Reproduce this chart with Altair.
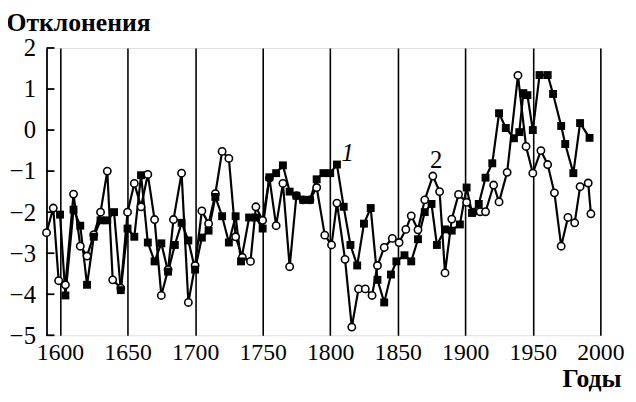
import altair as alt
import pandas as pd

# Series 1 (filled squares)
years1 = [1600, 1604, 1610, 1615, 1620, 1625, 1630, 1635, 1640, 1645,
          1650, 1655, 1660, 1665, 1670, 1675, 1680, 1685, 1690, 1695,
          1700, 1705, 1710, 1715, 1720, 1725, 1730, 1734, 1740, 1745,
          1750, 1755, 1760, 1765, 1770, 1775, 1780, 1785, 1790, 1795,
          1800, 1805, 1810, 1815, 1820, 1825, 1830, 1835, 1840, 1845,
          1849, 1855, 1860, 1865, 1870, 1875, 1879, 1885, 1890, 1896,
          1901, 1905, 1910, 1915, 1920, 1925, 1930, 1936, 1940, 1943,
          1946, 1950, 1955, 1961, 1965, 1971, 1974, 1980, 1985, 1992]
vals1 = [-2.06, -4.03, -1.94, -2.33, -3.77, -2.6, -2.2, -2.2, -2.0, -3.9,
         -2.4, -2.6, -1.1, -2.74, -3.2, -2.76, -3.45, -2.8, -2.26, -2.69,
         -3.4, -2.62, -2.45, -1.63, -2.1, -2.74, -2.1, -3.2, -2.13, -2.13,
         -2.4, -1.15, -1.05, -0.86, -1.5, -1.6, -1.7, -1.7, -1.2, -1.05,
         -1.05, -0.84, -1.87, -2.8, -3.3, -2.28, -1.9, -3.65, -4.2, -3.52,
         -3.2, -3.05, -3.2, -2.66, -2.0, -1.8, -2.8, -2.42, -2.45, -2.3,
         -1.4, -2.02, -1.8, -1.16, -0.81, 0.41, 0.05, -0.2, -0.05, 0.9,
         0.85, 0.0, 1.34, 1.34, 0.88, 0.1, -0.34, -1.05, 0.17, -0.19]

# Series 2 (open circles)
years2 = [1590, 1595, 1599, 1604, 1610, 1615, 1620, 1625, 1630, 1635,
          1639, 1645, 1650, 1655, 1660, 1665, 1670, 1675, 1680, 1684,
          1690, 1695, 1700, 1705, 1710, 1715, 1720, 1725, 1730, 1735,
          1741, 1745, 1750, 1755, 1760, 1765, 1770, 1775, 1780, 1785,
          1790, 1796, 1801, 1805, 1811, 1816, 1821, 1826, 1831, 1835,
          1840, 1846, 1851, 1856, 1860, 1865, 1870, 1876, 1881, 1885,
          1890, 1895, 1901, 1906, 1911, 1915, 1921, 1925, 1931, 1939,
          1945, 1950, 1956, 1961, 1966, 1971, 1976, 1981, 1985, 1991, 1993]
vals2 = [-2.5, -1.9, -3.67, -3.77, -1.56, -2.83, -3.07, -2.55, -2.0, -1.0,
         -3.65, -3.85, -2.0, -1.3, -1.87, -1.08, -2.18, -4.03, -3.4, -2.18,
         -1.05, -4.2, -3.3, -1.97, -2.28, -1.55, -0.52, -0.69, -2.6, -3.1,
         -3.2, -1.87, -2.2, -1.17, -2.33, -1.3, -3.33, -1.6, -1.7, -1.7,
         -1.4, -2.56, -2.8, -1.78, -3.15, -4.8, -3.87, -3.87, -4.03, -3.3,
         -2.86, -2.64, -2.74, -2.42, -2.09, -2.43, -1.7, -1.12, -1.5, -3.48,
         -2.17, -1.57, -1.76, -2.0, -1.99, -1.99, -1.34, -1.75, -1.03, 1.33,
         -0.4, -1.05, -0.5, -0.84, -1.53, -2.83, -2.13, -2.26, -1.38, -1.29, -2.04]

x_ticks = [1600, 1650, 1700, 1750, 1800, 1850, 1900, 1950, 2000]
y_ticks = [-5, -4, -3, -2, -1, 0, 1, 2]

label_text = ["1", "2"]
label_year = [1813, 1878.5]
label_val = [-0.55, -0.74]

FONT = "Liberation Serif"

d1 = pd.DataFrame({"year": years1, "value": vals1, "series": "1"})
d2 = pd.DataFrame({"year": years2, "value": vals2, "series": "2"})
ticks_df = pd.DataFrame({"value": y_ticks})
lab1_df = pd.DataFrame({"year": label_year[:1], "value": label_val[:1], "text": label_text[:1]})
lab2_df = pd.DataFrame({"year": label_year[1:], "value": label_val[1:], "text": label_text[1:]})

xs = alt.Scale(domain=[1590, 2000], nice=False, zero=False)
ys = alt.Scale(domain=[-5, 2], nice=False, zero=False)

W, H = 561, 291

x_axis = alt.Axis(values=x_ticks, format="d", grid=True, gridColor="black",
                  gridWidth=1.6, gridOpacity=1, domain=False, ticks=False,
                  tickSize=0, labelOverlap=False, labelFlush=False,
                  labelFont=FONT, labelFontSize=24, labelColor="black",
                  labelPadding=6, title="Годы", titleFont=FONT,
                  titleFontSize=26, titleFontWeight="bold", titleColor="black",
                  titleAlign="right", titleAnchor="end", titleX=W + 21, titleY=52,
                  titleBaseline="alphabetic")
y_axis = alt.Axis(values=y_ticks, grid=False, domain=True, domainColor="black",
                  domainWidth=1.8, ticks=False, tickSize=0, labelOverlap=False,
                  labelFlush=False, labelFont=FONT,
                  labelFontSize=25, labelColor="black", labelPadding=11,
                  title="Отклонения", titleFont=FONT, titleFontSize=26,
                  titleFontWeight="bold", titleColor="black", titleAngle=0,
                  titleAlign="left", titleBaseline="alphabetic",
                  titleX=-41, titleY=-18)

x_enc = alt.X("year:Q", scale=xs, axis=x_axis)
y_enc = alt.Y("value:Q", scale=ys, axis=y_axis)

line2 = alt.Chart(d2).mark_line(color="black", strokeWidth=2.2).encode(x=x_enc, y=y_enc)
line1 = alt.Chart(d1).mark_line(color="black", strokeWidth=2.2).encode(x=x_enc, y=y_enc)
circles = alt.Chart(d2).mark_point(shape="circle", filled=True, fill="white",
                                   stroke="black", strokeWidth=1.6, size=55,
                                   opacity=1).encode(x=x_enc, y=y_enc)
squares = alt.Chart(d1).mark_point(shape="square", filled=True, color="black",
                                   size=64, opacity=1).encode(x=x_enc, y=y_enc)
yticks = alt.Chart(ticks_df).mark_rule(color="black", strokeWidth=1.8).encode(
    x=alt.value(0), x2=alt.value(8), y=alt.Y("value:Q", scale=ys))
lab1 = alt.Chart(lab1_df).mark_text(font=FONT, fontSize=25, fontStyle="italic",
                                    color="black").encode(
    x=alt.X("year:Q", scale=xs), y=alt.Y("value:Q", scale=ys), text="text:N")
lab2 = alt.Chart(lab2_df).mark_text(font=FONT, fontSize=25, color="black").encode(
    x=alt.X("year:Q", scale=xs), y=alt.Y("value:Q", scale=ys), text="text:N")

chart = alt.layer(line2, line1, yticks, circles, squares, lab1, lab2).properties(
    width=W, height=H,
    autosize=alt.AutoSizeParams(type="none"),
    padding={"left": 39, "top": 38, "right": 28, "bottom": 57},
).configure_view(stroke=None).configure(background="white")

chart.save("out.html", embed_options={"renderer": "svg", "actions": False})
